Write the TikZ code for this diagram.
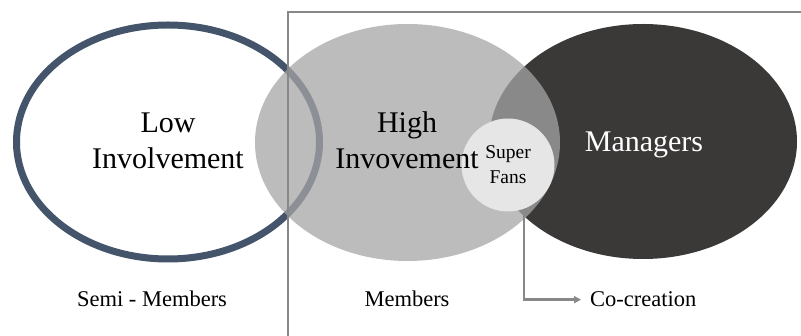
\documentclass[tikz,border=0pt]{standalone}
\usepackage{fontspec}
\setmainfont{Liberation Serif}
\usetikzlibrary{arrows.meta}
\definecolor{ringblue}{HTML}{44546A}
\definecolor{midgray}{HTML}{A5A5A5}
\definecolor{mgrdark}{HTML}{3B3838}
\definecolor{fanfill}{HTML}{E7E6E6}
\definecolor{framegray}{HTML}{888888}

\begin{document}
\begin{tikzpicture}[x=1pt,y=-1pt,
  frame/.style={draw=framegray, line width=2.8pt},
  big/.style={font=\fontsize{30}{36}\selectfont, align=center, inner sep=0pt},
  small/.style={font=\fontsize{22.5}{26}\selectfont, inner sep=0pt}]
  \useasboundingbox (0,0) rectangle (801,336);

  \fill[mgrdark] (643,141.5) ellipse [x radius=154, y radius=117.5]; %% managers
  \draw[ringblue, line width=7pt] (168,142) ellipse [x radius=151.5, y radius=117]; %% low
  \fill[midgray, fill opacity=0.75] (407.5,142.5) ellipse [x radius=152.5, y radius=118.5]; %% high

  \draw[frame] (801,12) -- (288,12) -- (288,336); %% members box

  \node[circle, fill=fanfill, minimum size=93pt, inner sep=0pt, align=center,
        font=\fontsize{19.5}{25}\selectfont] (fans) at (508,165) {Super\\Fans};

  \node[big] (low) at (168,141) {Low\\Involvement};
  \node[big] (high) at (407,140.5) {High\\Invovement};
  \node[font=\fontsize{30}{36}\selectfont, text=white, anchor=base, inner sep=0pt]
    (mgr) at (644,152) {Managers};

  \small
  \node[small, anchor=base] (semi) at (152,307) {Semi - Members};
  \node[small, anchor=base] (memb) at (407,307) {Members};
  \node[small, anchor=base west] (cocre) at (590,307) {Co-creation};

  \draw[framegray, line width=2.5pt, -{Triangle[length=7pt,width=7pt]}, shorten >=9pt]
    (fans.-70) |- (cocre.west); %% fans -> co-creation
\end{tikzpicture}
\end{document}
